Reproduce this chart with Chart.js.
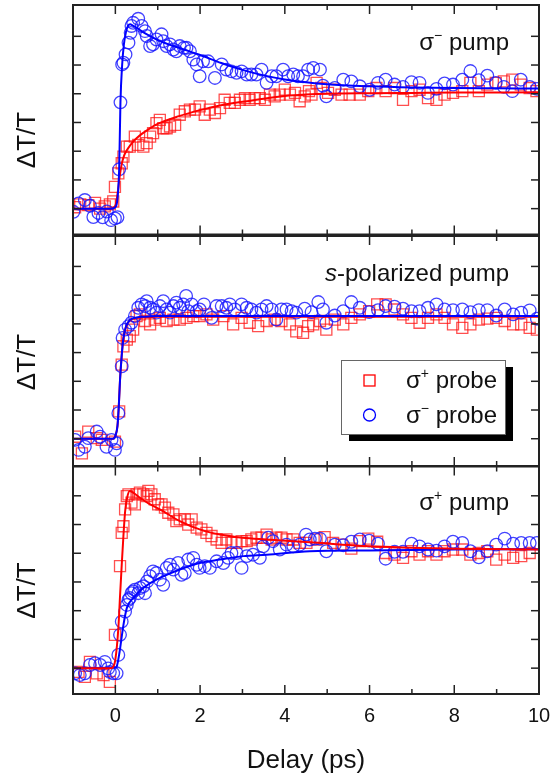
<!DOCTYPE html>
<html>
<head>
<meta charset="utf-8">
<script src="https://cdn.jsdelivr.net/npm/chart.js@4.4.0/dist/chart.umd.min.js"></script>
<style>
    body { margin: 0; background: #fff; }
    #wrap { position: relative; width: 552px; height: 780px; }
    canvas { position: absolute; left: 0; }
</style>
</head>
<body>
<div id="wrap">
    <canvas id="pMinus" width="552" height="238" style="top:0px"></canvas>
    <canvas id="pS" width="552" height="238" style="top:232px"></canvas>
    <canvas id="pPlus" width="552" height="318" style="top:462px"></canvas>
</div>
<script>
// ticks
const xMajor = [0, 2, 4, 6, 8, 10];
const xMinor = [-1, 1, 3, 5, 7, 9];
const yTickValues = [0, 1, 2, 3, 4, 5, 6];

// ---- sigma- pump ----
const minusPumpBlueX = [-0.99, -0.87, -0.72, -0.6, -0.52, -0.4, -0.3, -0.2, -0.1, -0.01,
    0.05, 0.09, 0.12, 0.16, 0.19, 0.24, 0.31, 0.36, 0.38, 0.42,
    0.54, 0.62, 0.7, 0.74, 0.82, 0.89, 0.97, 1.09, 1.13, 1.21,
    1.29, 1.37, 1.44, 1.52, 1.62, 1.68, 1.76, 1.84, 1.92, 1.99,
    2.07, 2.19, 2.35, 2.51, 2.62, 2.74, 2.86, 2.98, 3.1, 3.21,
    3.33, 3.45, 3.57, 3.69, 3.8, 3.96, 4.08, 4.2, 4.31, 4.43,
    4.55, 4.67, 4.83, 4.9, 4.98, 5.18, 5.38, 5.57, 5.77, 6.0,
    6.2, 6.38, 6.59, 6.79, 6.99, 7.18, 7.38, 7.58, 7.77, 7.97,
    8.19, 8.38, 8.58, 8.78, 8.98, 9.17, 9.37, 9.57, 9.78, 9.95];
const minusPumpBlueY = [-0.11, 0.18, 0.3, 0.1, -0.29, -0.15, -0.3, -0.1, -0.4, -0.34,
    -0.3, 1.37, 3.7, 5.02, 5.08, 5.37, 5.78, 6.12, 6.36, 6.47,
    6.61, 6.36, 6.18, 6.01, 5.66, 5.72, 5.89, 6.07, 5.83, 5.66,
    5.72, 5.54, 5.48, 5.66, 5.6, 5.6, 5.48, 5.19, 5.02, 4.61,
    5.13, 5.13, 4.55, 5.02, 4.84, 4.78, 4.73, 4.78, 4.67, 4.67,
    4.67, 4.84, 4.38, 4.61, 4.61, 4.84, 4.61, 4.67, 4.61, 4.61,
    4.84, 4.9, 4.84, 4.28, 3.91, 4.2, 4.49, 4.43, 4.26, 4.14,
    4.38, 4.49, 4.32, 4.24, 4.4, 4.38, 4.03, 4.17, 4.36, 4.32,
    4.49, 4.79, 4.47, 4.63, 4.38, 4.24, 4.09, 4.49, 4.24, 4.17];
const minusPumpRedX = [-0.95, -0.83, -0.64, -0.48, -0.36, -0.25, -0.13, -0.05, -0.01, 0.07,
    0.15, 0.19, 0.27, 0.34, 0.46, 0.54, 0.66, 0.74, 0.82, 0.89,
    0.97, 1.05, 1.13, 1.21, 1.29, 1.41, 1.52, 1.64, 1.76, 1.88,
    1.99, 2.11, 2.23, 2.35, 2.47, 2.58, 2.7, 2.82, 2.94, 3.06,
    3.17, 3.29, 3.41, 3.53, 3.65, 3.76, 3.88, 4.0, 4.12, 4.24,
    4.35, 4.47, 4.57, 4.63, 4.75, 4.86, 5.02, 5.18, 5.34, 5.53,
    5.77, 5.97, 6.16, 6.38, 6.59, 6.79, 6.99, 7.18, 7.38, 7.58,
    7.77, 7.97, 8.19, 8.38, 8.58, 8.78, 8.98, 9.17, 9.37, 9.57,
    9.78, 9.94];
const minusPumpRedY = [0.05, 0.15, 0.12, 0.2, 0.0, 0.08, 0.15, 0.25, 0.76, 1.23,
    1.58, 1.81, 2.16, 2.16, 2.51, 2.22, 2.16, 2.28, 2.51, 2.63,
    2.98, 3.09, 2.8, 2.8, 2.86, 2.92, 3.27, 3.39, 3.45, 3.45,
    3.56, 3.27, 3.45, 3.33, 3.5, 3.79, 3.68, 3.68, 3.79, 3.85,
    3.79, 3.85, 3.85, 3.79, 3.97, 3.91, 3.97, 4.14, 3.97, 4.03,
    3.74, 3.91, 4.09, 3.97, 4.38, 4.2, 4.03, 4.14, 3.97, 3.97,
    3.97, 4.09, 4.2, 4.09, 4.2, 3.79, 4.09, 4.14, 3.85, 3.79,
    3.97, 4.03, 4.09, 4.38, 4.09, 4.32, 4.38, 4.43, 4.49, 4.32,
    4.2, 4.09];
const minusPumpBlueFitX = [-1, -0.1, 0, 0.05, 0.09, 0.12, 0.16, 0.2, 0.25, 0.3, 0.35, 0.4, 0.5, 0.6, 0.8, 1.0, 1.5, 2, 2.5, 3, 3.5, 4, 4.5, 5, 6, 7, 8, 9, 10];
const minusPumpBlueFitY = [0, 0, 0.05, 0.35, 1.4, 3.7, 5.0, 5.7, 6.15, 6.37, 6.42, 6.38, 6.3, 6.2, 6.02, 5.87, 5.6, 5.35, 5.07, 4.83, 4.64, 4.5, 4.4, 4.33, 4.26, 4.22, 4.2, 4.19, 4.18];
const minusPumpRedFitX = [-1, -0.1, 0, 0.05, 0.1, 0.15, 0.2, 0.25, 0.3, 0.4, 0.5, 0.64, 0.8, 1.0, 1.5, 2, 2.5, 3, 3.5, 4, 4.5, 5, 6, 7, 8, 10];
const minusPumpRedFitY = [0, 0, 0.1, 0.5, 1.1, 1.55, 1.82, 1.98, 2.1, 2.3, 2.45, 2.62, 2.78, 2.95, 3.22, 3.43, 3.6, 3.72, 3.83, 3.92, 3.97, 4.0, 4.02, 4.03, 4.04, 4.05];

// ---- s-polarized pump ----
const sPumpBlueX = [-0.95, -0.87, -0.72, -0.64, -0.44, -0.36, -0.21, -0.09, -0.01, 0.03,
    0.07, 0.15, 0.17, 0.23, 0.31, 0.38, 0.46, 0.54, 0.62, 0.7,
    0.74, 0.82, 0.89, 0.97, 1.05, 1.13, 1.21, 1.29, 1.37, 1.44,
    1.52, 1.6, 1.67, 1.72, 1.8, 1.92, 1.99, 2.09, 2.27, 2.39,
    2.51, 2.62, 2.7, 2.82, 2.98, 3.1, 3.21, 3.33, 3.45, 3.57,
    3.69, 3.8, 3.92, 4.04, 4.16, 4.27, 4.47, 4.63, 4.79, 4.9,
    4.98, 5.18, 5.38, 5.57, 5.77, 5.99, 6.2, 6.38, 6.59, 6.79,
    6.99, 7.18, 7.38, 7.58, 7.77, 7.97, 8.19, 8.38, 8.58, 8.78,
    8.99, 9.19, 9.39, 9.58, 9.78, 9.95];
const sPumpBlueY = [-0.04, -0.39, -0.28, 0.02, 0.25, 0.07, -0.28, -0.04, -0.39, -0.16,
    0.89, 2.52, 3.51, 3.8, 3.92, 4.04, 4.27, 4.56, 4.68, 4.62,
    4.79, 4.56, 4.5, 4.39, 4.62, 4.79, 4.5, 4.39, 4.62, 4.74,
    4.56, 4.68, 4.97, 4.44, 4.68, 4.44, 4.5, 4.68, 4.21, 4.62,
    4.62, 4.56, 4.68, 4.5, 4.68, 4.56, 4.5, 4.39, 4.5, 4.62,
    4.5, 4.15, 4.5, 4.5, 4.44, 4.39, 4.53, 4.41, 4.76, 4.5,
    4.04, 4.29, 4.44, 4.76, 4.56, 4.41, 4.48, 4.62, 4.6, 4.53,
    4.44, 4.44, 4.56, 4.68, 4.5, 4.48, 4.5, 4.41, 4.48, 4.48,
    4.29, 4.5, 4.33, 4.39, 4.47, 4.18];
const sPumpRedX = [-0.95, -0.79, -0.64, -0.44, -0.32, -0.01, 0.09, 0.15, 0.19, 0.27,
    0.34, 0.42, 0.5, 0.58, 0.7, 0.82, 0.93, 1.05, 1.21, 1.37,
    1.52, 1.68, 1.84, 1.99, 2.15, 2.31, 2.55, 2.78, 2.98, 3.17,
    3.37, 3.57, 3.76, 3.92, 4.12, 4.27, 4.43, 4.55, 4.67, 4.83,
    4.98, 5.18, 5.38, 5.57, 5.77, 5.99, 6.18, 6.38, 6.59, 6.79,
    6.99, 7.18, 7.38, 7.58, 7.77, 7.97, 8.19, 8.38, 8.58, 8.78,
    8.99, 9.19, 9.39, 9.58, 9.78, 9.95];
const sPumpRedY = [0.07, -0.51, 0.25, 0.02, -0.04, -0.1, 0.95, 2.58, 3.22, 3.45,
    3.57, 3.8, 4.27, 4.33, 4.1, 3.98, 4.15, 4.21, 4.1, 4.15,
    4.15, 4.21, 4.27, 4.27, 4.33, 4.15, 4.27, 3.98, 4.21, 4.04,
    3.92, 4.1, 4.15, 4.1, 3.98, 3.74, 3.69, 3.92, 3.98, 4.1,
    3.8, 4.15, 3.98, 4.21, 4.33, 4.44, 4.68, 4.68, 4.5, 4.33,
    4.21, 4.04, 4.21, 4.33, 4.21, 3.98, 3.86, 3.98, 4.15, 4.18,
    4.21, 4.1, 3.98, 3.98, 3.86, 3.8];
const sPumpFitX = [-1, -0.05, 0, 0.05, 0.08, 0.11, 0.15, 0.19, 0.25, 0.34, 0.5, 0.7, 1, 2, 4, 6, 8, 10];
const sPumpBlueFitY = [0, 0, 0.1, 0.45, 1.1, 2.05, 2.9, 3.5, 3.9, 4.13, 4.22, 4.25, 4.27, 4.27, 4.27, 4.27, 4.27, 4.27];
const sPumpRedFitY = [0, 0, 0.1, 0.45, 1.1, 2.05, 2.9, 3.5, 3.9, 4.12, 4.2, 4.23, 4.25, 4.25, 4.25, 4.25, 4.25, 4.25];

// ---- sigma+ pump ----
const plusPumpRedX = [-0.87, -0.72, -0.6, -0.44, -0.28, -0.13, -0.01, 0.11, 0.15, 0.19,
    0.23, 0.27, 0.31, 0.38, 0.46, 0.5, 0.58, 0.66, 0.74, 0.78,
    0.85, 0.93, 1.01, 1.09, 1.17, 1.25, 1.37, 1.44, 1.52, 1.64,
    1.72, 1.8, 1.92, 2.03, 2.15, 2.27, 2.39, 2.51, 2.62, 2.74,
    2.86, 2.98, 3.1, 3.21, 3.33, 3.45, 3.57, 3.69, 3.8, 3.92,
    4.04, 4.2, 4.35, 4.51, 4.75, 4.94, 5.14, 5.34, 5.57, 5.77,
    5.97, 6.18, 6.38, 6.59, 6.79, 6.99, 7.18, 7.38, 7.58, 7.77,
    7.97, 8.19, 8.38, 8.58, 8.78, 8.99, 9.19, 9.39, 9.58, 9.78];
const plusPumpRedY = [-0.13, -0.3, 0.22, -0.18, -0.24, -0.48, 1.16, 3.55, 4.71, 4.94,
    5.53, 5.99, 6.05, 5.76, 5.7, 6.05, 6.11, 6.05, 5.99, 6.17,
    6.05, 5.88, 5.7, 5.7, 5.59, 5.41, 5.35, 5.12, 5.18, 5.18,
    5.0, 5.18, 4.89, 4.83, 4.71, 4.6, 4.48, 4.36, 4.48, 4.36,
    4.36, 4.42, 4.42, 4.48, 4.54, 4.54, 4.65, 4.48, 4.54, 4.54,
    4.48, 4.48, 4.36, 4.36, 4.48, 4.56, 4.36, 4.3, 4.16, 4.42,
    4.51, 4.4, 4.01, 3.95, 3.84, 4.07, 3.95, 4.07, 3.95, 4.07,
    4.13, 4.13, 3.95, 4.01, 4.07, 3.78, 3.95, 3.84, 3.9, 4.01];
const plusPumpBlueX = [-0.95, -0.84, -0.72, -0.6, -0.48, -0.36, -0.25, -0.17, -0.13, -0.05,
    0.03, 0.07, 0.11, 0.15, 0.23, 0.27, 0.31, 0.34, 0.38, 0.42,
    0.46, 0.54, 0.58, 0.66, 0.7, 0.75, 0.82, 0.89, 0.97, 1.05,
    1.13, 1.21, 1.29, 1.37, 1.48, 1.56, 1.64, 1.72, 1.84, 1.92,
    1.99, 2.11, 2.23, 2.39, 2.55, 2.66, 2.74, 2.86, 2.98, 3.1,
    3.25, 3.41, 3.49, 3.61, 3.72, 3.88, 4.04, 4.2, 4.35, 4.5,
    4.59, 4.71, 4.83, 4.98, 5.18, 5.38, 5.57, 5.77, 5.99, 6.2,
    6.38, 6.59, 6.79, 6.99, 7.18, 7.38, 7.58, 7.77, 7.97, 8.19,
    8.38, 8.58, 8.78, 8.99, 9.19, 9.39, 9.58, 9.78, 9.95];
const plusPumpBlueY = [-0.18, -0.24, -0.18, 0.11, 0.17, 0.11, 0.22, -0.01, -0.13, -0.18,
    -0.18, 0.46, 1.16, 1.62, 1.97, 2.2, 2.38, 2.44, 2.61, 2.67,
    2.73, 2.61, 2.79, 2.85, 2.61, 3.02, 3.2, 3.37, 3.31, 3.08,
    2.9, 3.49, 3.6, 3.43, 3.66, 3.25, 3.31, 3.78, 3.84, 3.6,
    3.49, 3.55, 3.49, 3.72, 3.66, 3.84, 4.01, 4.01, 3.49, 3.9,
    3.95, 3.84, 4.24, 4.54, 4.42, 4.13, 4.3, 4.24, 4.3, 4.65,
    4.48, 4.51, 4.51, 4.07, 4.3, 4.28, 4.4, 4.48, 4.44, 4.33,
    3.81, 4.05, 4.05, 4.33, 4.24, 4.13, 4.09, 4.24, 4.4, 4.36,
    4.07, 3.86, 4.07, 4.3, 4.51, 4.33, 4.36, 4.36, 4.36];
const plusPumpRedFitX = [-1, -0.1, -0.05, 0, 0.07, 0.11, 0.15, 0.19, 0.23, 0.28, 0.34, 0.45, 0.58, 0.8, 1.05, 1.52, 1.99, 2.47, 3.0, 3.57, 4.59, 6, 8, 10];
const plusPumpRedFitY = [0, 0, 0.05, 0.3, 1.38, 2.5, 3.59, 4.6, 5.45, 5.95, 6.17, 6.08, 5.93, 5.72, 5.53, 5.12, 4.83, 4.65, 4.54, 4.48, 4.38, 4.24, 4.16, 4.13];
const plusPumpBlueFitX = [-1, 0, 0.03, 0.1, 0.19, 0.27, 0.42, 0.66, 1.05, 1.52, 1.99, 2.47, 3.02, 3.57, 4.59, 6, 8, 10];
const plusPumpBlueFitY = [0, 0.02, 0.05, 0.57, 1.5, 2.09, 2.44, 2.79, 3.14, 3.43, 3.66, 3.78, 3.9, 3.95, 4.07, 4.1, 4.13, 4.14];

const RED = '#ff0000';
const BLUE = '#0000ff';
const FONT = '"Liberation Sans", Arial, sans-serif';

function pts(xs, ys) {
    return xs.map((x, i) => ({ x: x, y: ys[i] }));
}

function fitSet(xs, ys, color, order) {
    return {
        data: pts(xs, ys),
        showLine: true,
        borderColor: color,
        borderWidth: 2,
        pointRadius: 0,
        cubicInterpolationMode: 'monotone',
        clip: 0,
        order: order
    };
}

function markerSet(xs, ys, color, style, order) {
    return {
        data: pts(xs, ys),
        showLine: false,
        pointStyle: style,
        pointRadius: style === 'rect' ? 7.8 : 6.3,
        borderColor: color,
        borderWidth: 1.3,
        backgroundColor: 'rgba(0,0,0,0)',
        clip: 0,
        order: order
    };
}

// text with a raised sign, e.g. sigma with superscript minus
function supWidth(ctx, base, sup, rest, size) {
    ctx.font = size + 'px ' + FONT;
    let w = ctx.measureText(base).width + ctx.measureText(rest).width;
    ctx.font = Math.round(size * 0.6) + 'px ' + FONT;
    return w + ctx.measureText(sup).width;
}

function drawSup(ctx, x, y, base, sup, rest, size) {
    ctx.textAlign = 'left';
    ctx.textBaseline = 'alphabetic';
    ctx.font = size + 'px ' + FONT;
    ctx.fillText(base, x, y);
    x += ctx.measureText(base).width;
    ctx.font = Math.round(size * 0.6) + 'px ' + FONT;
    ctx.fillText(sup, x, y - size * 0.42);
    x += ctx.measureText(sup).width;
    ctx.font = size + 'px ' + FONT;
    ctx.fillText(rest, x, y);
}

function line(ctx, x1, y1, x2, y2) {
    ctx.beginPath();
    ctx.moveTo(x1, y1);
    ctx.lineTo(x2, y2);
    ctx.stroke();
}

const framePlugin = {
    id: 'frame',
    afterDatasetsDraw(chart, args, opts) {
        const ctx = chart.ctx;
        const a = chart.chartArea;
        const x = chart.scales.x;
        const y = chart.scales.y;
        ctx.save();
        ctx.strokeStyle = '#222';
        ctx.lineWidth = 1.5;
        xMajor.forEach(v => {
            const px = x.getPixelForValue(v);
            line(ctx, px, a.top, px, a.top + 9);
            line(ctx, px, a.bottom, px, a.bottom - 9);
        });
        xMinor.forEach(v => {
            const px = x.getPixelForValue(v);
            line(ctx, px, a.top, px, a.top + 5);
            line(ctx, px, a.bottom, px, a.bottom - 5);
        });
        yTickValues.forEach(v => {
            const py = y.getPixelForValue(v);
            line(ctx, a.left, py, a.left + 8, py);
            line(ctx, a.right, py, a.right - 8, py);
        });
        ctx.lineWidth = 2;
        ctx.strokeRect(a.left, a.top, a.right - a.left, a.bottom - a.top);

        ctx.fillStyle = '#111';
        // y label
        ctx.save();
        ctx.translate(28, a.top + opts.labelY);
        ctx.rotate(-Math.PI / 2);
        ctx.font = '26px ' + FONT;
        ctx.textAlign = 'center';
        ctx.textBaseline = 'middle';
        ctx.fillText('ΔT/T', 0, 0);
        ctx.restore();

        // pump label, right aligned
        const t = opts.title;
        const w = supWidth(ctx, t[0], t[1], t[2], 24);
        if (t[3]) {
            ctx.font = 'italic 24px ' + FONT;
            const wi = ctx.measureText(t[3]).width;
            const x0 = a.right - 30 - w - wi;
            ctx.textAlign = 'left';
            ctx.textBaseline = 'alphabetic';
            ctx.fillText(t[3], x0, a.top + opts.titleY);
            drawSup(ctx, x0 + wi, a.top + opts.titleY, t[0], t[1], t[2], 24);
        } else {
            drawSup(ctx, a.right - 30 - w, a.top + opts.titleY, t[0], t[1], t[2], 24);
        }

        if (opts.legend) {
            const lx = a.left + 268, ly = a.top + 124, lw = 164, lh = 74;
            ctx.fillStyle = '#000';
            ctx.fillRect(lx + 8, ly + 7, lw, lh);
            ctx.fillStyle = '#fff';
            ctx.fillRect(lx, ly, lw, lh);
            ctx.strokeStyle = '#666';
            ctx.lineWidth = 1;
            ctx.strokeRect(lx + 0.5, ly + 0.5, lw, lh);
            ctx.lineWidth = 1.3;
            ctx.strokeStyle = RED;
            ctx.strokeRect(lx + 23, ly + 15, 11, 11);
            ctx.strokeStyle = BLUE;
            ctx.beginPath();
            ctx.arc(lx + 28.5, ly + 55, 6, 0, Math.PI * 2);
            ctx.stroke();
            ctx.fillStyle = '#111';
            drawSup(ctx, lx + 65, ly + 28, 'σ', '+', ' probe', 24);
            drawSup(ctx, lx + 65, ly + 63, 'σ', '−', ' probe', 24);
        }

        if (opts.axis) {
            ctx.fillStyle = '#111';
            ctx.font = '20px ' + FONT;
            ctx.textAlign = 'center';
            ctx.textBaseline = 'middle';
            xMajor.forEach(v => {
                ctx.fillText(String(v), x.getPixelForValue(v), a.bottom + 22);
            });
            ctx.font = '26px ' + FONT;
            ctx.fillText('Delay (ps)', (a.left + a.right) / 2, a.bottom + 67);
        }
        ctx.restore();
    }
};

function panel(id, datasets, yMin, yMax, pad, frameOpts) {
    return new Chart(document.getElementById(id), {
        type: 'scatter',
        data: { datasets: datasets },
        options: {
            responsive: false,
            animation: false,
            events: [],
            layout: { padding: pad, autoPadding: false },
            plugins: {
                legend: { display: false },
                tooltip: { enabled: false },
                frame: frameOpts
            },
            scales: {
                x: { type: 'linear', min: -1, max: 10, display: false },
                y: { type: 'linear', min: yMin, max: yMax, display: false }
            }
        },
        plugins: [framePlugin]
    });
}

panel('pMinus', [
    fitSet(minusPumpBlueFitX, minusPumpBlueFitY, BLUE, 0),
    fitSet(minusPumpRedFitX, minusPumpRedFitY, RED, 1),
    markerSet(minusPumpBlueX, minusPumpBlueY, 'rgba(20,20,255,0.8)', 'circle', 2),
    markerSet(minusPumpRedX, minusPumpRedY, 'rgba(255,20,20,0.75)', 'rect', 3)
], -0.9, 7.09, { left: 73, right: 13, top: 5, bottom: 3.5 },
    { labelY: 135, titleY: 45, title: ['σ', '−', ' pump'] });

panel('pS', [
    fitSet(sPumpFitX, sPumpBlueFitY, BLUE, 0),
    fitSet(sPumpFitX, sPumpRedFitY, RED, 1),
    markerSet(sPumpBlueX, sPumpBlueY, 'rgba(20,20,255,0.8)', 'circle', 2),
    markerSet(sPumpRedX, sPumpRedY, 'rgba(255,20,20,0.75)', 'rect', 3)
], -0.95, 7.06, { left: 73, right: 13, top: 4, bottom: 4 },
    { labelY: 126, titleY: 45, title: ['', '', '-polarized pump', 's'], legend: true });

panel('pPlus', [
    fitSet(plusPumpRedFitX, plusPumpRedFitY, RED, 0),
    fitSet(plusPumpBlueFitX, plusPumpBlueFitY, BLUE, 1),
    markerSet(plusPumpBlueX, plusPumpBlueY, 'rgba(20,20,255,0.8)', 'circle', 2),
    markerSet(plusPumpRedX, plusPumpRedY, 'rgba(255,20,20,0.75)', 'rect', 3)
], -0.9, 7.02, { left: 73, right: 13, top: 4.5, bottom: 86 },
    { labelY: 124, titleY: 43.5, title: ['σ', '+', ' pump'], axis: true });
</script>
</body>
</html>
